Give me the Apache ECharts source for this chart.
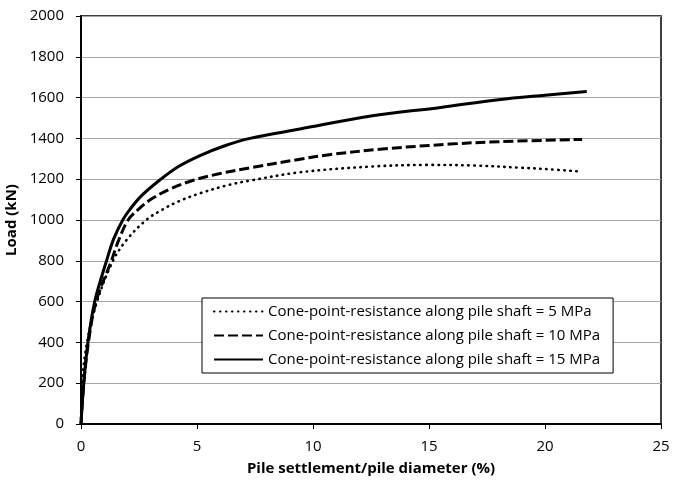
<!DOCTYPE html>
<html lang="en">
<head>
<meta charset="utf-8" />
<title>Load - settlement</title>
<script src="https://cdn.jsdelivr.net/npm/echarts@6/dist/echarts.min.js"></script>
<style>
  html, body { margin: 0; padding: 0; background: #fff; }
  #main { width: 687px; height: 488px; }
</style>
</head>
<body>
<div id="main"></div>
<script>
// settlement / diameter (%) and load (kN)
var settle5  = [0, 0.05, 0.26, 0.69, 1.38, 1.95, 2.81, 3.48, 4.18, 5.13, 6.34, 7.28, 9.44, 12.5, 15, 17, 19, 20, 21.5];
var load5    = [0, 200, 400, 600, 800, 900, 1000, 1049, 1090, 1131, 1171, 1193, 1234, 1262, 1270, 1267, 1256, 1250, 1238];

var settle10 = [0, 0.12, 0.32, 0.65, 1.31, 1.62, 2.03, 2.5, 3.0, 3.8, 4.84, 6, 7.28, 9.44, 10.7, 13, 15.9, 18, 21.6];
var load10   = [0, 200, 400, 600, 800, 900, 1000, 1055, 1100, 1150, 1195, 1228, 1256, 1298, 1320, 1348, 1372, 1384, 1395];

var settle15 = [0, 0.12, 0.3, 0.59, 1.1, 1.4, 1.8, 2.11, 2.6, 3.33, 4.2, 5.13, 6.2, 7.28, 9.44, 12.5, 15.5, 18, 20, 21.8];
var load15   = [0, 200, 400, 600, 800, 905, 1000, 1052, 1118, 1190, 1262, 1316, 1364, 1400, 1446, 1510, 1552, 1590, 1612, 1630];

var names = [
  'Cone-point-resistance along pile shaft = 5 MPa',
  'Cone-point-resistance along pile shaft = 10 MPa',
  'Cone-point-resistance along pile shaft = 15 MPa'
];

function pairs(xs, ys) {
  var out = [];
  for (var i = 0; i < xs.length; i++) out.push([xs[i], ys[i]]);
  return out;
}

var font = '"Open Sans", sans-serif';
var myChart = echarts.init(document.getElementById('main'), null, { renderer: 'canvas' });

var option = {
  backgroundColor: '#fff',
  animation: false,
  textStyle: { fontFamily: font },
  grid: {
    left: 81, right: 26, top: 16, bottom: 64,
    outerBoundsMode: 'none',
    show: true, borderColor: '#000', borderWidth: 1.5
  },
  legend: {
    orient: 'vertical',
    left: 202, top: 298,
    backgroundColor: '#fff',
    borderColor: '#000', borderWidth: 1,
    padding: [6, 13, 6, 11],
    itemWidth: 49, itemHeight: 14, itemGap: 9,
    itemStyle: { opacity: 0 },
    textStyle: { fontFamily: font, fontSize: 15, color: '#000' },
    data: names
  },
  xAxis: {
    type: 'value', min: 0, max: 25, interval: 5,
    name: 'Pile settlement/pile diameter (%)',
    nameLocation: 'middle', nameGap: 37,
    nameTextStyle: { fontFamily: font, fontSize: 15, fontWeight: 'bold', color: '#000' },
    axisLine: { show: true, onZero: false, lineStyle: { color: '#000', width: 2 } },
    axisTick: { show: true, length: 5, lineStyle: { color: '#000', width: 1 } },
    axisLabel: { fontFamily: font, fontSize: 15, color: '#000', margin: 15 },
    splitLine: { show: false }
  },
  yAxis: {
    type: 'value', min: 0, max: 2000, interval: 200,
    name: 'Load (kN)',
    nameLocation: 'middle', nameGap: 58,
    nameTextStyle: { fontFamily: font, fontSize: 15, fontWeight: 'bold', color: '#000' },
    axisLine: { show: true, lineStyle: { color: '#000', width: 2 } },
    axisTick: { show: true, length: 5, lineStyle: { color: '#000', width: 1 } },
    axisLabel: {
      fontFamily: font, fontSize: 15, color: '#000', margin: 17,
      formatter: function (v) { return String(v); }
    },
    splitLine: { show: true, lineStyle: { color: '#a6a6a6', width: 1 } }
  },
  series: [
    {
      name: names[0], type: 'line', data: pairs(settle5, load5),
      smooth: 0.35, symbol: 'none',
      lineStyle: { color: '#000', width: 2.6, type: [0.5, 5.5], cap: 'round' },
      itemStyle: { color: '#000' }
    },
    {
      name: names[1], type: 'line', data: pairs(settle10, load10),
      smooth: 0.35, symbol: 'none',
      lineStyle: { color: '#000', width: 3, type: [10, 4] },
      itemStyle: { color: '#000' }
    },
    {
      name: names[2], type: 'line', data: pairs(settle15, load15),
      smooth: 0.35, symbol: 'none',
      lineStyle: { color: '#000', width: 3 },
      itemStyle: { color: '#000' }
    }
  ]
};

myChart.setOption(option);
</script>
</body>
</html>
